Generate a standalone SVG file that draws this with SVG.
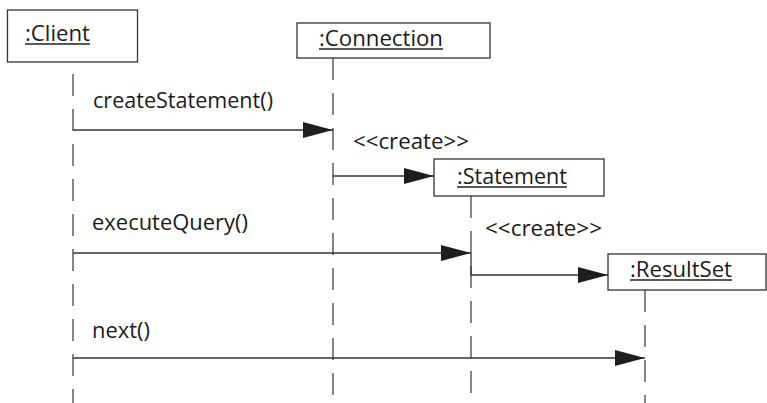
<svg xmlns="http://www.w3.org/2000/svg" width="767" height="403" viewBox="0 0 767 403">
<defs>
<style>
.box{fill:#fff;stroke:#333;stroke-width:1.3}
.life{stroke:#444;stroke-width:1.3;stroke-dasharray:22 13;fill:none}
.msg{stroke:#333;stroke-width:1.3;fill:none}
.lbl{font-family:"Open Sans","Noto Sans","Liberation Sans",sans-serif;font-size:21px;fill:#1a1a1a}
.ul{stroke:#222;stroke-width:1.3}
</style>
<marker id="ah" viewBox="0 0 30 16" refX="30" refY="8" markerWidth="30" markerHeight="16" markerUnits="userSpaceOnUse" orient="auto">
<path d="M0,0 L30,8 L0,16 Z" fill="#1e1e1e"/>
</marker>
</defs>
<rect width="767" height="403" fill="#fff"/>
<g id="lifelines">
<line class="life" x1="73" y1="62" x2="73" y2="403" stroke-dashoffset="-12"/>
<line class="life" x1="333" y1="58" x2="333" y2="403" stroke-dashoffset="0"/>
<line class="life" x1="471" y1="196" x2="471" y2="403"/>
<line class="life" x1="645" y1="290" x2="645" y2="403"/>
</g>
<g id="client">
<rect class="box" x="7.5" y="10" width="130" height="52"/>
<text class="lbl" x="25" y="41" textLength="65" lengthAdjust="spacingAndGlyphs">:Client</text>
<line class="ul" x1="25" y1="44" x2="90" y2="44"/>
</g>
<g id="connection">
<rect class="box" x="297" y="23" width="193" height="35"/>
<text class="lbl" x="319" y="46" textLength="124" lengthAdjust="spacingAndGlyphs">:Connection</text>
<line class="ul" x1="319" y1="49" x2="443" y2="49"/>
</g>
<g id="statement">
<rect class="box" x="434" y="159" width="170" height="37"/>
<text class="lbl" x="457" y="184" textLength="110" lengthAdjust="spacingAndGlyphs">:Statement</text>
<line class="ul" x1="457" y1="187" x2="567" y2="187"/>
</g>
<g id="resultset">
<rect class="box" x="608" y="254" width="158" height="36"/>
<text class="lbl" x="630" y="277" textLength="102" lengthAdjust="spacingAndGlyphs">:ResultSet</text>
<line class="ul" x1="630" y1="280" x2="732" y2="280"/>
</g>
<g id="connectors">
<line class="msg" x1="73" y1="130" x2="333" y2="130" marker-end="url(#ah)"/>
<line class="msg" x1="333" y1="176" x2="434" y2="176" marker-end="url(#ah)"/>
<line class="msg" x1="73" y1="253" x2="471" y2="253" marker-end="url(#ah)"/>
<path class="msg" d="M471,253 V275 H608" marker-end="url(#ah)"/>
<line class="msg" x1="73" y1="358" x2="645" y2="358" marker-end="url(#ah)"/>
<text class="lbl" x="93" y="108" textLength="180" lengthAdjust="spacingAndGlyphs">createStatement()</text>
<text class="lbl" x="353" y="149" textLength="116" lengthAdjust="spacingAndGlyphs">&lt;&lt;create&gt;&gt;</text>
<text class="lbl" x="92" y="230" textLength="156" lengthAdjust="spacingAndGlyphs">executeQuery()</text>
<text class="lbl" x="485" y="236" textLength="117" lengthAdjust="spacingAndGlyphs">&lt;&lt;create&gt;&gt;</text>
<text class="lbl" x="92" y="338" textLength="58" lengthAdjust="spacingAndGlyphs">next()</text>
</g>
</svg>
